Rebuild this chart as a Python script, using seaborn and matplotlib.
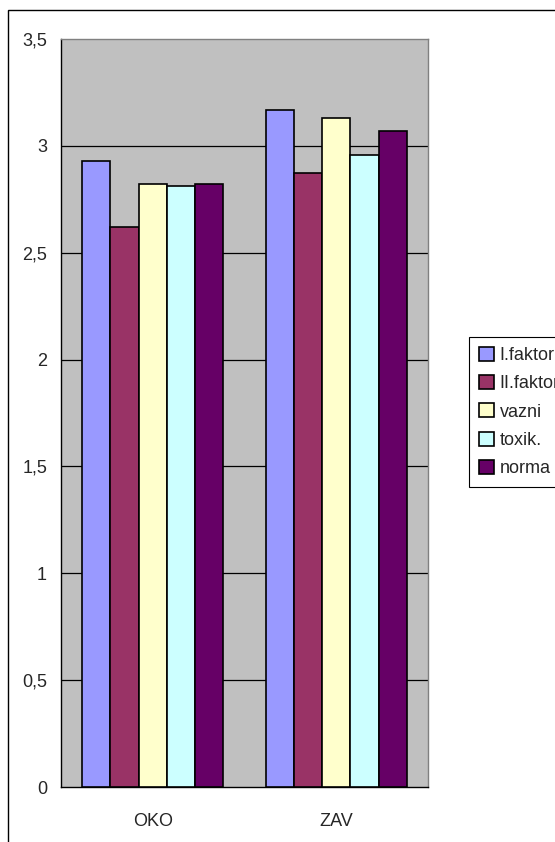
import numpy as np
import pandas as pd
from matplotlib import pyplot as plt
import matplotlib as mpl
import matplotlib.patches as mpatches
import seaborn as sns

# data
skupine = ['OKO', 'ZAV']
serije = ['I.faktor', 'II.faktor', 'vazni', 'toxik.', 'norma']
oko = [2.93, 2.62, 2.82, 2.81, 2.82]
zav = [3.17, 2.875, 3.13, 2.955, 3.07]
barve = ['#9999FF', '#993366', '#FFFFCC', '#CCFFFF', '#660066']

sns.set_style('white')
plt.rcParams['font.family'] = ['Liberation Sans', 'DejaVu Sans']
plt.rcParams['font.size'] = 13

df = pd.DataFrame({
    'skupina': np.repeat(skupine, len(serije)),
    'serija': serije * len(skupine),
    'vrednost': oko + zav,
})

fig = plt.figure(figsize=(5.55, 8.42), dpi=100)
ax = fig.add_axes([0.1099, 0.0653, 0.6613, 0.8884])
ax.set_facecolor('#C0C0C0')

sns.barplot(data=df, x='skupina', y='vrednost', hue='serija',
            hue_order=serije, palette=barve, saturation=1, width=0.77,
            edgecolor='black', linewidth=1.2, ax=ax, zorder=3)

ax.set_ylim(0, 3.5)
ax.set_xlim(-0.5, 1.5)
ax.set_yticks(np.arange(0, 3.51, 0.5))
ax.set_yticklabels(['0', '0,5', '1', '1,5', '2', '2,5', '3', '3,5'])
for y in np.arange(0.5, 3.01, 0.5):
    ax.axhline(y, color='black', lw=0.9, zorder=1)

# x ticks between categories, labels in the middle
ax.set_xticks([-0.5, 0.5, 1.5])
ax.set_xticklabels([])
ax.set_xticks([0, 1], minor=True)
ax.set_xticklabels(skupine, minor=True)
ax.tick_params(axis='x', which='minor', length=0, pad=19)
ax.tick_params(axis='x', which='major', length=6, width=1, color='black', direction='out')
ax.tick_params(axis='y', length=6, width=1, color='black', direction='out', pad=4)
ax.set_xlabel('')
ax.set_ylabel('')

for s in ['top', 'right']:
    ax.spines[s].set_color('#808080')
    ax.spines[s].set_linewidth(1)
for s in ['left', 'bottom']:
    ax.spines[s].set_color('black')
    ax.spines[s].set_linewidth(1)

h, l = ax.get_legend_handles_labels()
ax.legend(h, l, loc='upper left', bbox_to_anchor=(0.845, 0.6), bbox_transform=fig.transFigure,
          frameon=True, fancybox=False, edgecolor='black', framealpha=1,
          handlelength=0.85, handleheight=0.8, handletextpad=0.3,
          labelspacing=0.62, borderpad=0.55, borderaxespad=0, fontsize=13)
ax.get_legend().get_frame().set_linewidth(0.8)

# okvir okoli slike
fig.patches.append(mpatches.Rectangle((8 / 555, -0.05), 1.1, 0.988 + 0.05, fill=False,
                                      edgecolor='black', lw=1, transform=fig.transFigure))

fig.savefig('out.png', dpi=100)
